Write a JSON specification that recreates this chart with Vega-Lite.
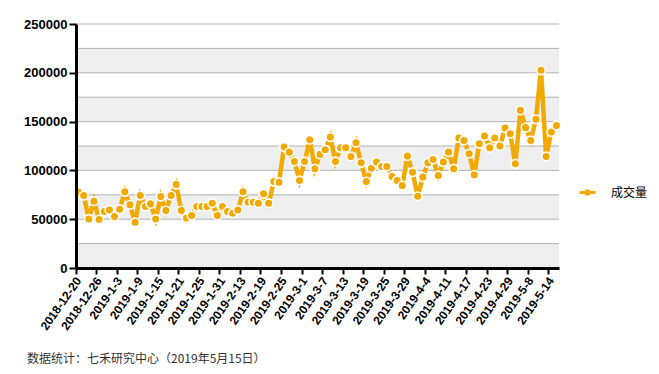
{
  "$schema": "https://vega.github.io/schema/vega-lite/v6.json",
  "width": 483,
  "height": 244,
  "autosize": "none",
  "padding": {"left": 76, "top": 24, "right": 100, "bottom": 106},
  "background": "white",
  "config": {"view": {"stroke": null}},
  "title": {
    "text": "数据统计：七禾研究中心（2019年5月15日）",
    "orient": "bottom",
    "anchor": "start",
    "frame": "group",
    "dx": -49,
    "offset": 22,
    "font": "Noto Sans CJK SC",
    "fontSize": 12,
    "fontWeight": "normal",
    "color": "#333333"
  },
  "datasets": {
    "bands": [
      {"lo": 0, "hi": 25000},
      {"lo": 50000, "hi": 75000},
      {"lo": 100000, "hi": 125000},
      {"lo": 150000, "hi": 175000},
      {"lo": 200000, "hi": 225000}
    ],
    "grid": [
      {"v": 0}, {"v": 25000}, {"v": 50000}, {"v": 75000}, {"v": 100000}, {"v": 125000},
      {"v": 150000}, {"v": 175000}, {"v": 200000}, {"v": 225000}, {"v": 250000}
    ],
    "vol": [
      {"date": "2018-12-20", "volume": 77600},
      {"date": "2018-12-21", "volume": 74200},
      {"date": "2018-12-24", "volume": 50300},
      {"date": "2018-12-25", "volume": 68400},
      {"date": "2018-12-26", "volume": 49600},
      {"date": "2018-12-27", "volume": 57800},
      {"date": "2018-12-28", "volume": 59500},
      {"date": "2019-1-2", "volume": 52700},
      {"date": "2019-1-3", "volume": 60200},
      {"date": "2019-1-4", "volume": 78000},
      {"date": "2019-1-7", "volume": 64700},
      {"date": "2019-1-8", "volume": 46800},
      {"date": "2019-1-9", "volume": 74200},
      {"date": "2019-1-10", "volume": 63000},
      {"date": "2019-1-11", "volume": 65700},
      {"date": "2019-1-14", "volume": 50300},
      {"date": "2019-1-15", "volume": 73200},
      {"date": "2019-1-16", "volume": 58800},
      {"date": "2019-1-17", "volume": 74200},
      {"date": "2019-1-18", "volume": 85500},
      {"date": "2019-1-21", "volume": 58800},
      {"date": "2019-1-22", "volume": 51300},
      {"date": "2019-1-23", "volume": 53700},
      {"date": "2019-1-24", "volume": 63000},
      {"date": "2019-1-25", "volume": 63000},
      {"date": "2019-1-28", "volume": 63000},
      {"date": "2019-1-29", "volume": 66400},
      {"date": "2019-1-30", "volume": 53700},
      {"date": "2019-1-31", "volume": 63000},
      {"date": "2019-2-1", "volume": 57800},
      {"date": "2019-2-11", "volume": 56100},
      {"date": "2019-2-12", "volume": 59500},
      {"date": "2019-2-13", "volume": 78000},
      {"date": "2019-2-14", "volume": 67400},
      {"date": "2019-2-15", "volume": 67400},
      {"date": "2019-2-18", "volume": 66400},
      {"date": "2019-2-19", "volume": 76000},
      {"date": "2019-2-20", "volume": 66400},
      {"date": "2019-2-21", "volume": 88600},
      {"date": "2019-2-22", "volume": 87900},
      {"date": "2019-2-25", "volume": 123900},
      {"date": "2019-2-26", "volume": 118700},
      {"date": "2019-2-27", "volume": 109200},
      {"date": "2019-2-28", "volume": 89700},
      {"date": "2019-3-1", "volume": 109200},
      {"date": "2019-3-4", "volume": 131500},
      {"date": "2019-3-5", "volume": 101700},
      {"date": "2019-3-6", "volume": 116400},
      {"date": "2019-3-7", "volume": 121200},
      {"date": "2019-3-8", "volume": 134100},
      {"date": "2019-3-11", "volume": 109200},
      {"date": "2019-3-12", "volume": 123200},
      {"date": "2019-3-13", "volume": 123200},
      {"date": "2019-3-14", "volume": 114300},
      {"date": "2019-3-15", "volume": 128400},
      {"date": "2019-3-18", "volume": 107800},
      {"date": "2019-3-19", "volume": 88600},
      {"date": "2019-3-20", "volume": 102300},
      {"date": "2019-3-21", "volume": 108500},
      {"date": "2019-3-22", "volume": 104000},
      {"date": "2019-3-25", "volume": 104000},
      {"date": "2019-3-26", "volume": 93800},
      {"date": "2019-3-27", "volume": 89700},
      {"date": "2019-3-28", "volume": 84500},
      {"date": "2019-3-29", "volume": 114600},
      {"date": "2019-4-1", "volume": 98200},
      {"date": "2019-4-2", "volume": 73500},
      {"date": "2019-4-3", "volume": 93100},
      {"date": "2019-4-4", "volume": 107800},
      {"date": "2019-4-8", "volume": 111200},
      {"date": "2019-4-9", "volume": 94800},
      {"date": "2019-4-10", "volume": 108500},
      {"date": "2019-4-11", "volume": 118700},
      {"date": "2019-4-12", "volume": 101700},
      {"date": "2019-4-15", "volume": 133100},
      {"date": "2019-4-16", "volume": 130700},
      {"date": "2019-4-17", "volume": 117100},
      {"date": "2019-4-18", "volume": 95500},
      {"date": "2019-4-19", "volume": 127300},
      {"date": "2019-4-22", "volume": 135200},
      {"date": "2019-4-23", "volume": 123200},
      {"date": "2019-4-24", "volume": 133100},
      {"date": "2019-4-25", "volume": 124900},
      {"date": "2019-4-26", "volume": 143400},
      {"date": "2019-4-29", "volume": 137600},
      {"date": "2019-4-30", "volume": 106800},
      {"date": "2019-5-6", "volume": 161500},
      {"date": "2019-5-7", "volume": 143800},
      {"date": "2019-5-8", "volume": 130700},
      {"date": "2019-5-9", "volume": 152300},
      {"date": "2019-5-10", "volume": 202600},
      {"date": "2019-5-13", "volume": 114300},
      {"date": "2019-5-14", "volume": 139300},
      {"date": "2019-5-15", "volume": 146100}
    ]
  },
  "layer": [
    {
      "data": {"name": "bands"},
      "mark": {"type": "rect", "color": "#efefef"},
      "encoding": {
        "y": {
          "field": "lo", "type": "quantitative", "title": null,
          "scale": {"domain": [0, 250000], "nice": false},
          "axis": {
            "title": null,
            "zindex": 1,
            "values": [0, 50000, 100000, 150000, 200000, 250000],
            "format": "d",
            "labelFont": "Liberation Sans",
            "labelFontSize": 13,
            "labelFontWeight": "bold",
            "labelColor": "#000000",
            "labelPadding": 2,
            "domainColor": "#000000",
            "domainWidth": 3,
            "tickColor": "#000000",
            "tickWidth": 2,
            "tickSize": 7,
            "grid": false
          }
        },
        "y2": {"field": "hi"}
      }
    },
    {
      "data": {"name": "grid"},
      "mark": {"type": "rule", "color": "#b3b3b3", "strokeWidth": 1},
      "encoding": {
        "y": {"field": "v", "type": "quantitative", "title": null}
      }
    },
    {
      "data": {"name": "vol"},
      "mark": {"type": "line", "strokeWidth": 4.5, "strokeJoin": "miter"},
      "encoding": {
        "x": {
          "field": "date", "type": "ordinal", "sort": null,
          "scale": {"type": "band", "paddingInner": 0, "paddingOuter": 0},
          "axis": {
            "title": null,
            "zindex": 1,
            "values": ["2018-12-20","2018-12-26","2019-1-3","2019-1-9","2019-1-15","2019-1-21","2019-1-25","2019-1-31","2019-2-13","2019-2-19","2019-2-25","2019-3-1","2019-3-7","2019-3-13","2019-3-19","2019-3-25","2019-3-29","2019-4-4","2019-4-11","2019-4-17","2019-4-23","2019-4-29","2019-5-8","2019-5-14"],
            "bandPosition": 0,
            "labelAngle": -55,
            "labelFont": "Liberation Sans",
            "labelFontSize": 12,
            "labelFontWeight": "bold",
            "labelColor": "#000000",
            "labelPadding": 4,
            "domainColor": "#000000",
            "domainWidth": 3,
            "tickColor": "#000000",
            "tickWidth": 2,
            "tickSize": 6,
            "grid": false
          }
        },
        "y": {"field": "volume", "type": "quantitative", "title": null},
        "color": {
          "datum": "成交量",
          "scale": {"range": ["#F2A900"]},
          "legend": {
            "title": null,
            "orient": "none",
            "legendX": 505,
            "legendY": 162,
            "padding": 0,
            "symbolType": "M-1.6,0L-0.6,0M0.6,0L1.6,0M-0.35,0A0.35,0.35,0,1,1,0.35,0A0.35,0.35,0,1,1,-0.35,0Z",
            "symbolSize": 100,
            "symbolStrokeWidth": 3,
            "symbolFillColor": "#F2A900",
            "symbolStrokeColor": "#F2A900",
            "labelOffset": 17,
            "labelFont": "Noto Sans CJK SC",
            "labelFontSize": 12,
            "labelColor": "#000000"
          }
        }
      }
    },
    {
      "data": {"name": "vol"},
      "mark": {"type": "point", "filled": true, "fill": "#F2A900", "stroke": "white", "strokeWidth": 1.6, "size": 75, "opacity": 1, "strokeOpacity": 1, "fillOpacity": 1},
      "encoding": {
        "x": {"field": "date", "type": "ordinal", "sort": null},
        "y": {"field": "volume", "type": "quantitative", "title": null}
      }
    }
  ]
}
